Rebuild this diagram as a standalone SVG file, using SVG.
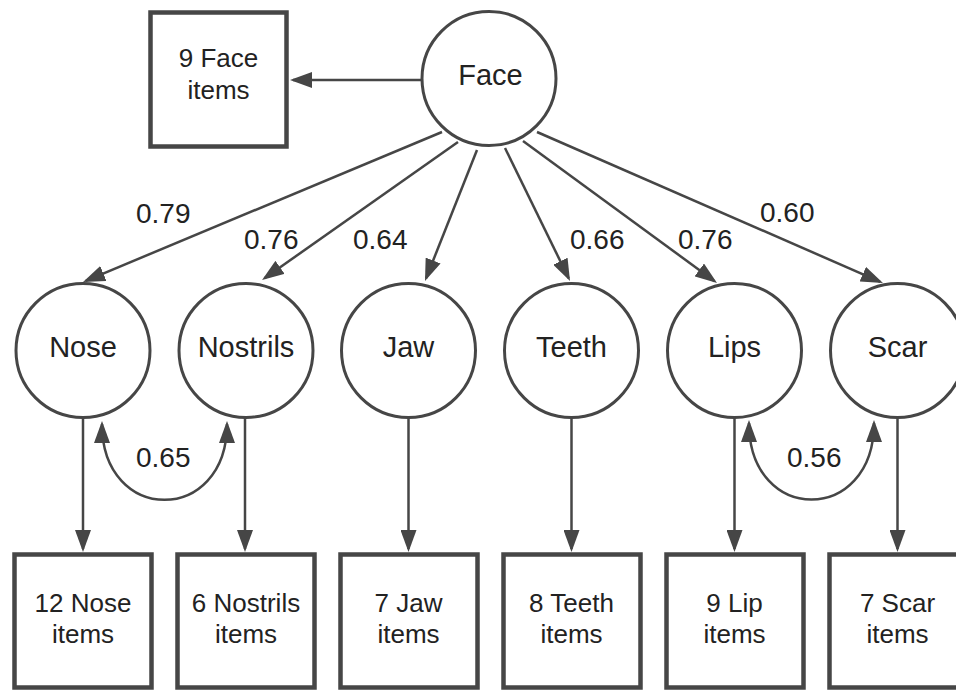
<svg xmlns="http://www.w3.org/2000/svg" width="956" height="690" viewBox="0 0 956 690">
<style>
.c{fill:#fff;stroke:#464646;stroke-width:3}
.b{fill:#fff;stroke:#464646;stroke-width:4.5}
.l{fill:none;stroke:#464646;stroke-width:2.5}
.t{font-family:"Liberation Sans",Arial,sans-serif;fill:#222;text-anchor:middle}
.ct{font-size:29px}
.bt{font-size:26px}
.lt{font-size:28px;text-anchor:start}
</style>
<defs>
<marker id="ah" viewBox="0 0 22 16" refX="19" refY="8" markerWidth="22" markerHeight="16" markerUnits="userSpaceOnUse" orient="auto-start-reverse">
<path d="M0,0 L22,8 L0,16 z" fill="#464646"/>
</marker>
</defs>
<g id="connectors">
<line class="l" x1="421" y1="80" x2="293" y2="80" marker-end="url(#ah)"/>
<line class="l" x1="442" y1="132" x2="85.8" y2="280.8" marker-end="url(#ah)"/>
<line class="l" x1="458" y1="142" x2="264.5" y2="278.3" marker-end="url(#ah)"/>
<line class="l" x1="477" y1="150" x2="426.1" y2="278.2" marker-end="url(#ah)"/>
<line class="l" x1="505" y1="148" x2="568.7" y2="278.3" marker-end="url(#ah)"/>
<line class="l" x1="523" y1="141" x2="714.6" y2="281.2" marker-end="url(#ah)"/>
<line class="l" x1="537" y1="132" x2="880.2" y2="281.8" marker-end="url(#ah)"/>
<line class="l" x1="83" y1="418" x2="83" y2="549" marker-end="url(#ah)"/>
<line class="l" x1="245" y1="418" x2="245" y2="549" marker-end="url(#ah)"/>
<line class="l" x1="408.5" y1="418" x2="408.5" y2="549" marker-end="url(#ah)"/>
<line class="l" x1="571.5" y1="418" x2="571.5" y2="549" marker-end="url(#ah)"/>
<line class="l" x1="734.5" y1="418" x2="734.5" y2="549" marker-end="url(#ah)"/>
<line class="l" x1="897.5" y1="418" x2="897.5" y2="549" marker-end="url(#ah)"/>
<path class="l" d="M102,424 C102,525 227,525 227,424" marker-start="url(#ah)" marker-end="url(#ah)"/>
<path class="l" d="M749,423 C749,525 874,525 874,423" marker-start="url(#ah)" marker-end="url(#ah)"/>
<text class="t lt" x="136" y="223">0.79</text>
<text class="t lt" x="244" y="249">0.76</text>
<text class="t lt" x="353" y="249">0.64</text>
<text class="t lt" x="570" y="249">0.66</text>
<text class="t lt" x="678" y="249">0.76</text>
<text class="t lt" x="760" y="222">0.60</text>
<text class="t lt" x="136" y="467">0.65</text>
<text class="t lt" x="787" y="467">0.56</text>
</g>
<g id="face">
<circle class="c" cx="489" cy="78.5" r="67"/>
<text class="t ct" x="490.5" y="85">Face</text>
</g>
<g id="face-items">
<rect class="b" x="150.5" y="12.5" width="136" height="134"/>
<text class="t bt" x="218.5" y="67">9 Face</text>
<text class="t bt" x="218.5" y="99">items</text>
</g>
<g id="nose"><circle class="c" cx="83" cy="350.5" r="67"/><text class="t ct" x="83" y="357">Nose</text></g>
<g id="nostrils"><circle class="c" cx="246" cy="350.5" r="67"/><text class="t ct" x="246" y="357">Nostrils</text></g>
<g id="jaw"><circle class="c" cx="408.5" cy="350.5" r="67"/><text class="t ct" x="408.5" y="357">Jaw</text></g>
<g id="teeth"><circle class="c" cx="571.5" cy="350.5" r="67"/><text class="t ct" x="571.5" y="357">Teeth</text></g>
<g id="lips"><circle class="c" cx="734.5" cy="350.5" r="67"/><text class="t ct" x="734.5" y="357">Lips</text></g>
<g id="scar"><circle class="c" cx="897.5" cy="350.5" r="67"/><text class="t ct" x="897.5" y="357">Scar</text></g>
<g id="nose-items"><rect class="b" x="14.5" y="554.5" width="137" height="133"/><text class="t bt" x="83" y="612">12 Nose</text><text class="t bt" x="83" y="643">items</text></g>
<g id="nostrils-items"><rect class="b" x="177.5" y="554.5" width="137" height="133"/><text class="t bt" x="246" y="612">6 Nostrils</text><text class="t bt" x="246" y="643">items</text></g>
<g id="jaw-items"><rect class="b" x="340.5" y="554.5" width="137" height="133"/><text class="t bt" x="408.5" y="612">7 Jaw</text><text class="t bt" x="408.5" y="643">items</text></g>
<g id="teeth-items"><rect class="b" x="503.5" y="554.5" width="137" height="133"/><text class="t bt" x="571.5" y="612">8 Teeth</text><text class="t bt" x="571.5" y="643">items</text></g>
<g id="lip-items"><rect class="b" x="666.5" y="554.5" width="137" height="133"/><text class="t bt" x="734.5" y="612">9 Lip</text><text class="t bt" x="734.5" y="643">items</text></g>
<g id="scar-items"><rect class="b" x="829.5" y="554.5" width="137" height="133"/><text class="t bt" x="897.5" y="612">7 Scar</text><text class="t bt" x="897.5" y="643">items</text></g>
</svg>
